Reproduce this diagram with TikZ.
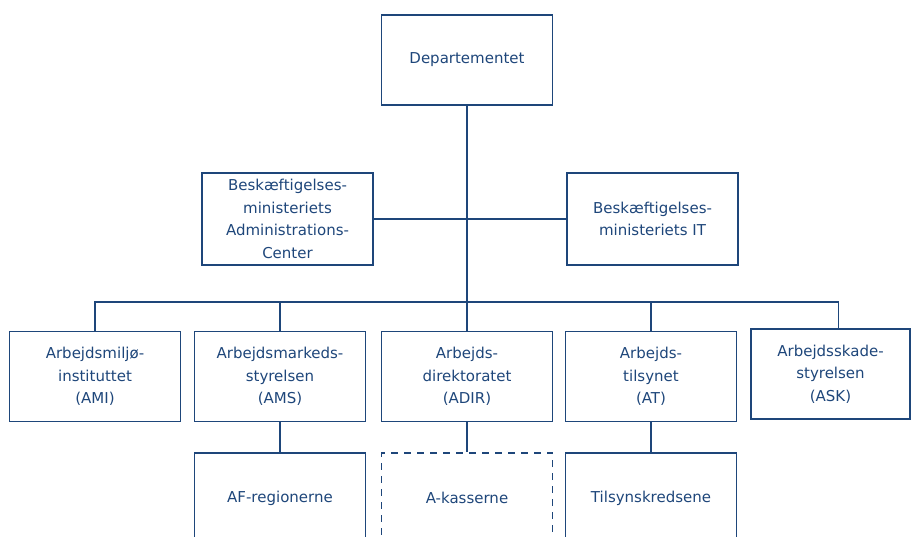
\documentclass[tikz,border=0pt]{standalone}
\usepackage{fontspec}
\setmainfont{DejaVu Sans}
\usepackage{tikz}

\begin{document}
\begin{tikzpicture} [x=1pt,y=-1pt,
    box/.style={draw=orgblue,line width=1.8pt,text=orgblue,align=center,
      minimum width=171,minimum height=90,inner sep=0pt,
      font=\fontsize{15}{22.5}\selectfont},
    link/.style={draw=orgblue,line width=1.8pt}]
    % frame %
    \definecolor{orgblue}{RGB}{30,70,122}
    \useasboundingbox (0,0) rectangle (912,537);
    \clip (0,0) rectangle (912,537);

    % top and staff units %
    \node [box] (dep) at (467,60) {Departementet};
    \node [box,minimum height=92] (bmac) at (287.5,219) {Beskæftigelses-\\ministeriets\\Administrations-\\Center};
    \node [box,minimum height=92] (bmit) at (652.5,219) {Beskæftigelses-\\ministeriets IT};

    % agencies %
    \node [box] (ami) at (95,376.5) {Arbejdsmiljø-\\instituttet\\(AMI)};
    \node [box] (ams) at (280,376.5) {Arbejdsmarkeds-\\styrelsen\\(AMS)};
    \node [box] (adir) at (467,376.5) {Arbejds-\\direktoratet\\(ADIR)};
    \node [box] (at) at (651,376.5) {Arbejds-\\tilsynet\\(AT)};
    \node [box,minimum width=159] (ask) at (830.5,374) {Arbejdsskade-\\styrelsen\\(ASK)};

    % local units %
    \node [box] (af) at (280,498) {AF-regionerne};
    \node [box,dash pattern=on 7pt off 6pt] (akas) at (467,498) {A-kasserne};
    \node [box] (tils) at (651,498) {Tilsynskredsene};

    % lines %
    \coordinate (bus) at (467,302);
    \draw [link] (dep.south) -- (adir.north);
    \draw [link] (bmac.east) -- (bmit.west);
    \draw [link] (ami.north) |- (bus) -| ([xshift=8]ask.north);
    \foreach \n in {ams,at}
      \draw [link] (\n.north) -- (\n.north |- bus);
    \draw [link] (ams.south) -- (af.north);
    \draw [link] (adir.south) -- (akas.north);
    \draw [link] (at.south) -- (tils.north);
\end{tikzpicture}
\end{document}
